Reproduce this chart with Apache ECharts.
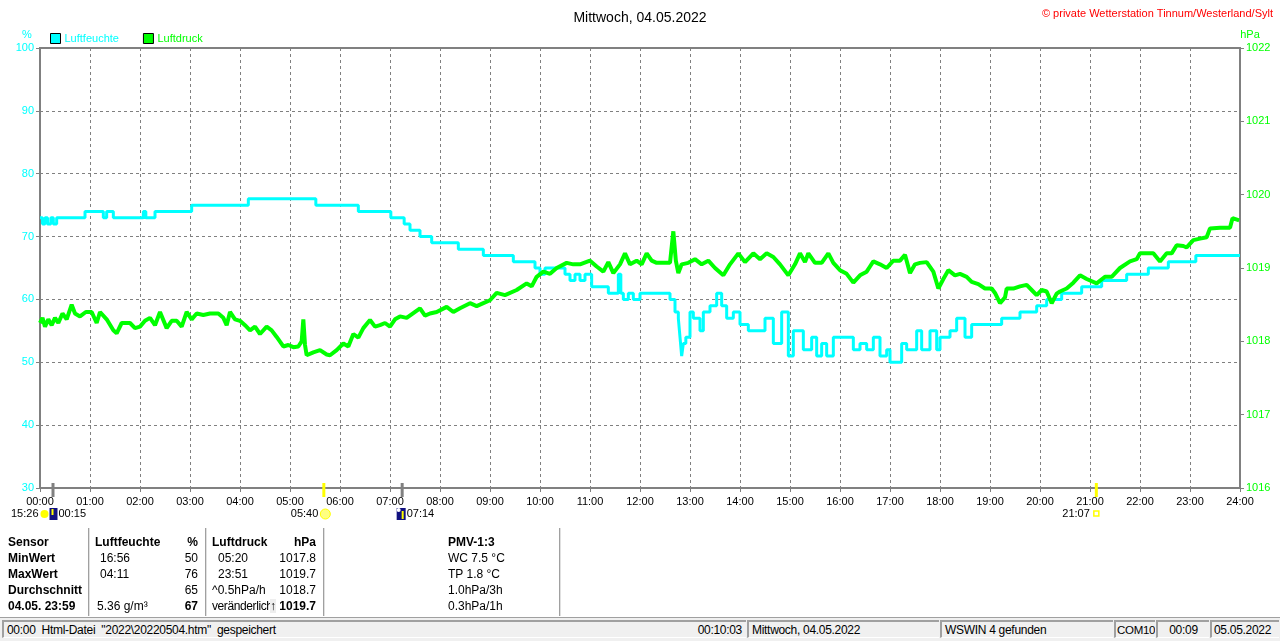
<!DOCTYPE html>
<html>
<head>
<meta charset="utf-8">
<script src="https://cdn.jsdelivr.net/npm/echarts@6/dist/echarts.min.js"></script>
<style>
  html, body { margin: 0; padding: 0; background: #fff; }
  body { width: 1280px; height: 641px; position: relative; overflow: hidden;
         font-family: 'Liberation Sans', Arial, sans-serif; font-size: 12px; color: #000; }
  #chart { position: absolute; left: 0; top: 0; width: 1280px; height: 641px; }
  .c { position: absolute; white-space: nowrap; line-height: 16px; }
  .b { font-weight: bold; }
  .sep { position: absolute; top: 528px; height: 88px; width: 1px; background: #a0a0a0; border-right: 1px solid #e0e0e0; }
  #status { position: absolute; left: 0; top: 617px; width: 1280px; height: 24px; background: #f0f0f0; border-top: 1px solid #a0a0a0; letter-spacing: -0.3px; }
  .p { position: absolute; top: 2px; height: 18px; line-height: 17px; border-left: 2px solid #a0a0a0; border-top: 2px solid #a0a0a0; border-bottom: 1px solid #fff; padding: 0 3px; box-sizing: border-box; white-space: nowrap; overflow: hidden; }
</style>
</head>
<body>
<div id="chart"></div>
<div id="table"></div>
<div id="status">
  <div class="p" style="left:2px;width:744px;">00:00&nbsp; Html-Datei&nbsp; "2022\20220504.htm"&nbsp; gespeichert<span style="position:absolute;right:4px;">00:10:03</span></div>
  <div class="p" style="left:747px;width:192px;">Mittwoch, 04.05.2022</div>
  <div class="p" style="left:940px;width:173px;">WSWIN 4 gefunden</div>
  <div class="p" style="left:1114px;width:41px;padding:0 1px;font-size:11.5px;">COM10</div>
  <div class="p" style="left:1156px;width:53px;text-align:center;">00:09</div>
  <div class="p" style="left:1210px;width:69px;padding:0 2px;">05.05.2022</div>
</div>
<script>
// Tageskurve Luftfeuchte / Luftdruck, Zeit in Minuten ab 00:00
var humTime = [0, 3, 6, 9, 13, 16, 20, 54, 76, 80, 88, 124, 127, 138, 182, 250, 331, 382, 421, 437, 444, 456, 470, 502, 532, 568, 594, 600, 606, 630, 636, 642, 648, 654, 662, 676, 682, 694, 697, 700, 706, 712, 720, 756, 762, 766, 768, 770, 772, 775, 780, 784, 792, 796, 804, 812, 818, 824, 832, 840, 850, 860, 870, 880, 890, 898, 904, 912, 916, 926, 932, 938, 944, 952, 960, 968, 976, 984, 992, 1000, 1008, 1016, 1020, 1034, 1040, 1052, 1058, 1068, 1076, 1080, 1092, 1100, 1110, 1118, 1154, 1176, 1196, 1208, 1226, 1250, 1274, 1304, 1330, 1354, 1387, 1440];
var humVal  = [73, 72, 73, 72, 73, 72, 73, 74, 73, 74, 73, 74, 73, 74, 75, 76, 75, 74, 73, 72, 71, 70, 69, 68, 67, 66, 65, 64, 65, 64, 63, 64, 63, 64, 62, 62, 61, 64, 61, 60, 61, 60, 61, 60, 58, 57, 54, 51, 53, 54, 58, 57, 55, 58, 59, 61, 59, 57, 58, 56, 55, 55, 57, 53, 58, 51, 55, 55, 52, 54, 51, 53, 51, 54, 54, 54, 52, 53, 52, 54, 51, 52, 50, 53, 52, 55, 52, 55, 52, 54, 55, 57, 54, 56, 57, 58, 59, 60, 61, 62, 63, 64, 65, 66, 67, 67];

var presTime = [0, 3, 6, 10, 14, 18, 22, 27, 32, 38, 42, 48, 55, 62, 68, 72, 80, 88, 92, 98, 108, 114, 120, 126, 132, 138, 144, 152, 158, 164, 170, 176, 182, 188, 196, 204, 214, 220, 224, 228, 234, 240, 246, 252, 258, 264, 272, 278, 284, 292, 298, 304, 310, 314, 316, 318, 320, 328, 336, 344, 348, 356, 364, 370, 376, 382, 388, 396, 402, 408, 414, 420, 426, 432, 440, 456, 462, 468, 476, 488, 496, 504, 516, 524, 532, 540, 548, 558, 572, 584, 590, 596, 604, 612, 620, 632, 640, 648, 660, 668, 676, 682, 688, 696, 702, 708, 716, 722, 728, 734, 740, 752, 756, 760, 763, 766, 770, 778, 786, 794, 802, 810, 820, 828, 838, 846, 856, 864, 872, 880, 888, 898, 906, 912, 918, 922, 930, 938, 946, 952, 960, 968, 976, 984, 992, 996, 1000, 1008, 1016, 1024, 1032, 1038, 1044, 1050, 1056, 1064, 1072, 1078, 1084, 1090, 1098, 1104, 1112, 1118, 1126, 1134, 1142, 1146, 1152, 1158, 1160, 1168, 1176, 1184, 1190, 1196, 1202, 1208, 1214, 1220, 1224, 1232, 1240, 1248, 1256, 1268, 1278, 1286, 1296, 1308, 1316, 1320, 1330, 1336, 1344, 1352, 1358, 1364, 1372, 1376, 1384, 1392, 1400, 1404, 1416, 1428, 1431, 1439];
var presVal  = [1018.25, 1018.32, 1018.2, 1018.3, 1018.22, 1018.32, 1018.25, 1018.38, 1018.3, 1018.5, 1018.38, 1018.34, 1018.4, 1018.4, 1018.25, 1018.4, 1018.3, 1018.15, 1018.11, 1018.25, 1018.25, 1018.18, 1018.2, 1018.28, 1018.32, 1018.22, 1018.4, 1018.18, 1018.28, 1018.28, 1018.2, 1018.4, 1018.3, 1018.38, 1018.36, 1018.38, 1018.38, 1018.32, 1018.22, 1018.4, 1018.3, 1018.28, 1018.22, 1018.15, 1018.2, 1018.1, 1018.2, 1018.15, 1018.06, 1017.93, 1017.95, 1017.92, 1017.93, 1018.0, 1018.3, 1017.95, 1017.81, 1017.85, 1017.88, 1017.82, 1017.81, 1017.88, 1017.97, 1017.93, 1018.1, 1018.05, 1018.18, 1018.29, 1018.2, 1018.22, 1018.25, 1018.2, 1018.3, 1018.34, 1018.32, 1018.45, 1018.35, 1018.38, 1018.4, 1018.47, 1018.4, 1018.45, 1018.52, 1018.48, 1018.52, 1018.56, 1018.66, 1018.63, 1018.7, 1018.79, 1018.75, 1018.88, 1018.95, 1018.92, 1019.0, 1019.07, 1019.05, 1019.05, 1019.1, 1019.02, 1018.95, 1019.08, 1018.93, 1019.05, 1019.2, 1019.05, 1019.1, 1019.05, 1019.2, 1019.1, 1019.07, 1019.07, 1019.07, 1019.5, 1019.1, 1018.93, 1019.05, 1019.07, 1019.12, 1019.05, 1019.1, 1019.0, 1018.9, 1019.05, 1019.2, 1019.08, 1019.2, 1019.12, 1019.2, 1019.15, 1019.05, 1018.9, 1019.05, 1019.2, 1019.08, 1019.2, 1019.07, 1019.07, 1019.2, 1019.07, 1018.97, 1018.92, 1018.8, 1018.9, 1018.95, 1019.02, 1019.09, 1019.05, 1019.0, 1019.1, 1019.1, 1019.18, 1018.93, 1019.05, 1019.07, 1019.08, 1018.95, 1018.72, 1018.85, 1018.97, 1018.9, 1018.92, 1018.88, 1018.81, 1018.78, 1018.72, 1018.72, 1018.66, 1018.52, 1018.6, 1018.72, 1018.72, 1018.75, 1018.77, 1018.7, 1018.63, 1018.7, 1018.68, 1018.52, 1018.65, 1018.68, 1018.72, 1018.8, 1018.9, 1018.85, 1018.79, 1018.88, 1018.88, 1019.0, 1019.09, 1019.12, 1019.2, 1019.2, 1019.2, 1019.09, 1019.2, 1019.2, 1019.31, 1019.3, 1019.28, 1019.38, 1019.4, 1019.42, 1019.54, 1019.55, 1019.55, 1019.68, 1019.65];

// Sonne/Mond Auf- und Untergang (Minuten) unter der Zeitachse
var markTime  = [15, 340, 434, 1267];
var markColor = ['#808080', '#ffff00', '#808080', '#ffff00'];

var cyan = '#00ffff';
var green = '#00ff00';
var gray = '#808080';
var font = "'Liberation Sans', Arial, sans-serif";

function pad(n) { return (n < 10 ? '0' : '') + n; }
function pairs(t, v) { return t.map(function(x, i) { return [x, v[i]]; }); }

var chart = echarts.init(document.getElementById('chart'));

chart.setOption({
  animation: false,
  textStyle: { fontFamily: font },
  title: [
    { text: 'Mittwoch, 04.05.2022', left: 'center', top: 6,
      textStyle: { fontSize: 14, fontWeight: 'normal', color: '#000', fontFamily: font } },
    { text: '\u00a9 private Wetterstation Tinnum/Westerland/Sylt', right: 2, top: 3,
      textStyle: { fontSize: 11, fontWeight: 'normal', color: '#ff0000', fontFamily: font } }
  ],
  legend: {
    left: 45, top: 28,
    icon: 'rect', itemWidth: 10, itemHeight: 10, itemGap: 24,
    itemStyle: { borderColor: '#000', borderWidth: 1 },
    textStyle: { fontSize: 11, padding: [0, 0, 0, -1] },
    data: [
      { name: 'Luftfeuchte', textStyle: { color: cyan } },
      { name: 'Luftdruck', textStyle: { color: green } }
    ]
  },
  grid: {
    left: 40, right: 40, top: 48, bottom: 153,
    show: true, borderColor: gray, borderWidth: 2, backgroundColor: 'transparent'
  },
  xAxis: {
    type: 'value', min: 0, max: 1440, interval: 60,
    axisLine: { lineStyle: { color: gray, width: 2 } },
    axisTick: { show: true, length: 4, lineStyle: { color: gray } },
    axisLabel: { color: '#000', fontSize: 11, margin: 8,
      formatter: function(v) { return pad(v / 60) + ':00'; } },
    splitLine: { show: true, lineStyle: { color: gray, type: [3, 3], width: 1 } }
  },
  yAxis: [
    {
      type: 'value', min: 30, max: 100, interval: 10, position: 'left',
      name: '%', nameGap: 8, nameTextStyle: { color: cyan, fontSize: 11, padding: [0, 26, 0, 0] },
      axisLine: { show: true, lineStyle: { color: gray, width: 2 } },
      axisTick: { show: true, length: 4, lineStyle: { color: gray } },
      axisLabel: { color: cyan, fontSize: 11, margin: 6 },
      splitLine: { show: true, lineStyle: { color: gray, type: [3, 3], width: 1 } }
    },
    {
      type: 'value', min: 1016, max: 1022, interval: 1, position: 'right',
      name: 'hPa', nameGap: 8, nameTextStyle: { color: green, fontSize: 11, padding: [0, 0, 0, 20] },
      axisLine: { show: true, lineStyle: { color: gray, width: 2 } },
      axisTick: { show: true, length: 4, lineStyle: { color: gray } },
      axisLabel: { color: green, fontSize: 11, margin: 6,
        formatter: function(v) { return String(v); } },
      splitLine: { show: false }
    }
  ],
  series: [
    {
      name: 'Luftfeuchte', type: 'line', yAxisIndex: 0, step: 'end',
      showSymbol: false, z: 3,
      lineStyle: { color: cyan, width: 3 }, itemStyle: { color: cyan },
      data: pairs(humTime, humVal)
    },
    {
      name: 'Luftdruck', type: 'line', yAxisIndex: 1,
      showSymbol: false, z: 4,
      lineStyle: { color: green, width: 4 }, itemStyle: { color: green },
      data: pairs(presTime, presVal)
    }
  ]
});

// Markierungen unter der Achse aus den Zeiten
var axisY = chart.convertToPixel({ yAxisIndex: 0 }, 30);
var els = [];
markTime.forEach(function(t, i) {
  var x = chart.convertToPixel({ xAxisIndex: 0 }, t);
  els.push({ type: 'rect', shape: { x: x - 1, y: axisY - 5, width: 3, height: 14 },
    style: { fill: markColor[i] }, z: 10 });
});
function lbl(txt, x, y, align) {
  els.push({ type: 'text', x: x, y: y, style: { text: txt, fill: '#000', font: '11px ' + font, align: align || 'left', verticalAlign: 'middle' }, z: 10 });
}
var xm = markTime.map(function(t) { return chart.convertToPixel({ xAxisIndex: 0 }, t); });
var ly = axisY + 26;
// Mond
lbl('15:26', xm[0] - 14, ly, 'right');
els.push({ type: 'circle', shape: { cx: xm[0] - 8, cy: ly, r: 4 }, style: { fill: '#ffff00' }, z: 10 });
els.push({ type: 'rect', shape: { x: xm[0] - 3, y: ly - 6, width: 8, height: 12 }, style: { fill: '#101080' }, z: 10 });
els.push({ type: 'rect', shape: { x: xm[0] - 1, y: ly - 5, width: 2, height: 6 }, style: { fill: '#ffff00' }, z: 11 });
lbl('00:15', xm[0] + 6, ly);
// Sonnenaufgang
lbl('05:40', xm[1] - 5, ly, 'right');
els.push({ type: 'circle', shape: { cx: xm[1] + 2, cy: ly, r: 5 }, style: { fill: '#ffff80', stroke: '#ffff00', lineWidth: 1 }, z: 10 });
// Monduntergang
els.push({ type: 'rect', shape: { x: xm[2] - 5, y: ly - 6, width: 9, height: 12 }, style: { fill: '#101080' }, z: 10 });
els.push({ type: 'circle', shape: { cx: xm[2] - 3, cy: ly - 4, r: 2 }, style: { fill: '#fff' }, z: 11 });
els.push({ type: 'rect', shape: { x: xm[2], y: ly - 3, width: 2, height: 8 }, style: { fill: '#ffff00' }, z: 11 });
lbl('07:14', xm[2] + 5, ly);
// Sonnenuntergang
lbl('21:07', xm[3] - 6, ly, 'right');
els.push({ type: 'rect', shape: { x: xm[3] - 2, y: ly - 3, width: 5, height: 5 }, style: { fill: 'none', stroke: '#ffff00', lineWidth: 1.5 }, z: 10 });

chart.setOption({ graphic: { elements: els } });

// Tabelle unter dem Diagramm
var tbl = document.getElementById('table');
var rowTop = [534, 550, 566, 582, 598];
function cell(txt, row, x, cls, right, css) {
  var d = document.createElement('div');
  d.className = 'c ' + (cls || '');
  d.style.top = rowTop[row] + 'px';
  if (right) { d.style.right = (1280 - x) + 'px'; } else { d.style.left = x + 'px'; }
  if (css) d.style.cssText += css;
  d.innerHTML = txt;
  tbl.appendChild(d);
}
['Sensor', 'MinWert', 'MaxWert', 'Durchschnitt', '04.05. 23:59'].forEach(function(s, i) { cell(s, i, 8, 'b'); });
cell('Luftfeuchte', 0, 95, 'b'); cell('%', 0, 198, 'b', true);
cell('16:56', 1, 100); cell('50', 1, 198, '', true);
cell('04:11', 2, 100); cell('76', 2, 198, '', true);
cell('65', 3, 198, '', true);
cell('5.36 g/m\u00b3', 4, 97); cell('67', 4, 198, 'b', true);
cell('Luftdruck', 0, 212, 'b'); cell('hPa', 0, 316, 'b', true);
cell('05:20', 1, 218); cell('1017.8', 1, 316, '', true);
cell('23:51', 2, 218); cell('1019.7', 2, 316, '', true);
cell('^0.5hPa/h', 3, 212); cell('1018.7', 3, 316, '', true);
cell('ver\u00e4nderlich', 4, 212, '', false, 'letter-spacing:-0.4px;');
cell('<span style="background:#eee;font-weight:bold;">\u2191</span>', 4, 270);
cell('1019.7', 4, 316, 'b', true);
cell('PMV-1:3', 0, 448, 'b');
cell('WC 7.5 \u00b0C', 1, 448); cell('TP 1.8 \u00b0C', 2, 448);
cell('1.0hPa/3h', 3, 448); cell('0.3hPa/1h', 4, 448);
[88, 205, 323, 559].forEach(function(x) {
  var s = document.createElement('div'); s.className = 'sep'; s.style.left = x + 'px'; tbl.appendChild(s);
});
</script>
</body>
</html>
